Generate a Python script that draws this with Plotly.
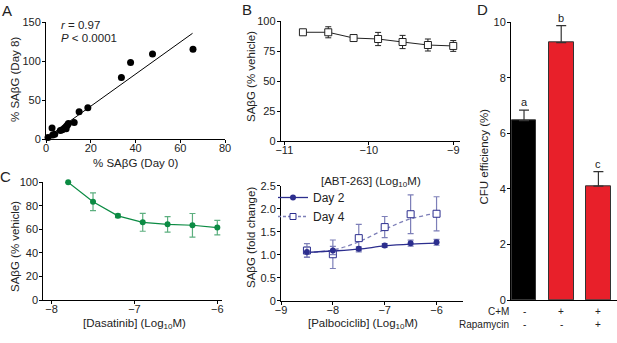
import plotly.graph_objects as go

W, H = 617, 343
FONT = "Liberation Sans, Arial, sans-serif"

# ---------------- Data ----------------
# Panel A
a_day0 = [0.9, 2.7, 3.0, 3.9, 6.4, 7.3, 8.3, 9.0, 9.6, 10.0, 9.0, 12.6, 14.8, 18.7, 33.7, 37.8, 47.6, 65.7]
a_day8 = [2, 14, 5, 6, 11, 12, 14, 16, 18, 20, 13, 21, 35, 40, 79, 98, 109, 115]
a_fit_x = [1.0, 65.5]
a_fit_y = [3.0, 135.5]

# Panel B
b_x = [-10.78, -10.48, -10.18, -9.89, -9.60, -9.30, -9.00]
b_y = [90.6, 90.6, 85.8, 85.0, 82.5, 80.0, 79.2]
b_err = [0, 4.6, 1.2, 5.5, 5.5, 5.0, 4.5]

# Panel C
c_x = [-7.80, -7.50, -7.20, -6.90, -6.60, -6.30, -6.00]
c_y = [100, 83.5, 71.5, 66.0, 64.3, 63.5, 61.5]
c_err = [0, 7.6, 1.5, 7.6, 6.6, 10.0, 6.2]

# Panel Palbociclib
p_x = [-8.5, -8.0, -7.5, -7.0, -6.5, -6.0]
p_day2 = [1.06, 1.09, 1.13, 1.20, 1.25, 1.27]
p_day2_err = [0.11, 0.09, 0.04, 0.04, 0.065, 0.065]
p_day4 = [1.09, 1.01, 1.36, 1.60, 1.88, 1.89]
p_day4_err = [0.15, 0.31, 0.30, 0.23, 0.42, 0.37]
p_fit_x = [-8.5, -8.0, -7.5, -7.0, -6.5, -6.0]
p_fit2 = [1.05, 1.08, 1.12, 1.19, 1.23, 1.25]
p_fit4 = [1.05, 1.10, 1.28, 1.55, 1.78, 1.90]
p_series = ["Day 2", "Day 4"]

# Panel D
d_groups = [0, 1, 2]
d_vals = [6.46, 9.27, 4.10]
d_err = [0.38, 0.61, 0.52]
d_letters = ["a", "b", "c"]
d_cm = ["-", "+", "+"]
d_rapa = ["-", "-", "+"]

GREEN = "#0b8b43"
GREEN_L = "#5caf7f"
NAVY = "#2c2e8e"
NAVY_L = "#7d7fb8"
RED = "#e8202a"


def dom_x(l, r):
    return [l / W, r / W]


def dom_y(b, t):
    return [1 - b / H, 1 - t / H]


fig = go.Figure()

# A
fig.add_trace(go.Scatter(x=a_fit_x, y=a_fit_y, mode="lines", line=dict(color="black", width=1),
                         xaxis="x", yaxis="y", showlegend=False, cliponaxis=False))
fig.add_trace(go.Scatter(x=a_day0, y=a_day8, mode="markers",
                         marker=dict(color="black", size=7), xaxis="x", yaxis="y",
                         showlegend=False, cliponaxis=False))

# B
fig.add_trace(go.Scatter(x=b_x, y=b_y, mode="lines+markers",
                         line=dict(color="#222", width=1),
                         marker=dict(symbol="square", color="white", size=7, line=dict(width=1, color="#222")),
                         error_y=dict(type="data", array=b_err, color="#222", thickness=1, width=3),
                         xaxis="x2", yaxis="y2", showlegend=False, cliponaxis=False))

# C
fig.add_trace(go.Scatter(x=c_x, y=c_y, mode="lines+markers",
                         line=dict(color=GREEN, width=1.2),
                         marker=dict(symbol="circle", color=GREEN, size=6),
                         error_y=dict(type="data", array=c_err, color=GREEN_L, thickness=1.2, width=3),
                         xaxis="x3", yaxis="y3", showlegend=False, cliponaxis=False))

# Palbociclib
fig.add_trace(go.Scatter(x=p_fit_x, y=p_fit4, mode="lines", line=dict(color=NAVY_L, width=1.3, dash="4px,3px", shape="spline"),
                         xaxis="x4", yaxis="y4", showlegend=False, hoverinfo="skip"))
fig.add_trace(go.Scatter(x=p_fit_x, y=p_fit2, mode="lines", line=dict(color=NAVY, width=1.3, shape="spline"),
                         xaxis="x4", yaxis="y4", showlegend=False, hoverinfo="skip"))
fig.add_trace(go.Scatter(x=p_x, y=p_day4, mode="markers",
                         marker=dict(symbol="square", color="white", size=7, line=dict(color=NAVY, width=1)),
                         error_y=dict(type="data", array=p_day4_err, color=NAVY_L, thickness=1.2, width=3),
                         xaxis="x4", yaxis="y4", showlegend=False, cliponaxis=False))
fig.add_trace(go.Scatter(x=p_x, y=p_day2, mode="markers",
                         marker=dict(symbol="circle", color=NAVY, size=6),
                         error_y=dict(type="data", array=p_day2_err, color=NAVY_L, thickness=1.2, width=3),
                         xaxis="x4", yaxis="y4", showlegend=False, cliponaxis=False))
# legend entries
fig.add_trace(go.Scatter(x=[None], y=[None], mode="lines+markers", name=p_series[0],
                         line=dict(color=NAVY, width=1.3),
                         marker=dict(symbol="circle", color=NAVY, size=6),
                         xaxis="x4", yaxis="y4", showlegend=True))
fig.add_trace(go.Scatter(x=[None], y=[None], mode="lines+markers", name=p_series[1],
                         line=dict(color=NAVY_L, width=1.3, dash="3px,2px"),
                         marker=dict(symbol="square", color="white", size=6, line=dict(color=NAVY, width=1)),
                         xaxis="x4", yaxis="y4", showlegend=True))

# D bars
fig.add_trace(go.Bar(x=d_groups, y=d_vals, width=0.67,
                     marker=dict(color=["black", RED, RED], line=dict(color="#333", width=1)),
                     error_y=dict(type="data", array=d_err, arrayminus=[0, 0, 0], symmetric=False,
                                  color="#333", thickness=1.2, width=5),
                     xaxis="x5", yaxis="y5", showlegend=False))

axis_common = dict(showline=True, linecolor="black", linewidth=1, ticks="outside", ticklen=3,
                   tickcolor="black", tickwidth=1, showgrid=False, zeroline=False, automargin=False,
                   tickfont=dict(family=FONT, size=11, color="#222"), fixedrange=True)
xax = dict(axis_common, ticklabelstandoff=-4)
yax = dict(axis_common, ticklabelstandoff=-1)

fig.update_layout(
    template="none",
    width=W, height=H, margin=dict(l=0, r=0, t=0, b=0, pad=0, autoexpand=False),
    paper_bgcolor="white", plot_bgcolor="white",
    font=dict(family=FONT, size=11, color="#222"),
    xaxis=dict(domain=dom_x(46, 225), range=[0, 80], tickvals=[0, 20, 40, 60, 80], anchor="y", **xax),
    yaxis=dict(domain=dom_y(139, 22), range=[0, 150], tickvals=[0, 50, 100, 150], anchor="x", **yax),
    xaxis2=dict(domain=dom_x(280.7, 460), range=[-11.043, -8.92], tickvals=[-11, -10, -9], anchor="y2", **xax),
    yaxis2=dict(domain=dom_y(141, 21), range=[0, 100], tickvals=[0, 25, 50, 75, 100], anchor="x2", **yax),
    xaxis3=dict(domain=dom_x(43.3, 221.7), range=[-8.10, -5.947], tickvals=[-8, -7, -6], anchor="y3", **xax),
    yaxis3=dict(domain=dom_y(300, 182.3), range=[0, 100], tickvals=[0, 20, 40, 60, 80, 100], anchor="x3", **yax),
    xaxis4=dict(domain=dom_x(281, 463), range=[-9, -5.49], tickvals=[-9, -8, -7, -6], anchor="y4", **xax),
    yaxis4=dict(domain=dom_y(300.7, 185.7), range=[0, 2.5], tickvals=[0, 0.5, 1, 1.5, 2, 2.5],
                ticktext=["0", "0.5", "1.0", "1.5", "2.0", "2.5"], anchor="x4", **yax),
    xaxis5=dict(domain=dom_x(511, 617), range=[-0.35, 2.5], anchor="y5", showline=True, linecolor="black",
                linewidth=1, showticklabels=False, ticks="", showgrid=False, zeroline=False, fixedrange=True,
                automargin=False),
    yaxis5=dict(domain=dom_y(300, 22.3), range=[0, 10], tickvals=[0, 2, 4, 6, 8, 10], anchor="x5", **yax),
    legend=dict(x=273 / W, y=1 - 183 / H, xanchor="left", yanchor="top", bgcolor="rgba(0,0,0,0)",
                font=dict(family=FONT, size=12, color="#222"), itemwidth=30, tracegroupgap=0,
                borderwidth=0),
    bargap=0,
    showlegend=True,
)


def ann(x, y, text, size=11.5, angle=0, xanchor="center", yanchor="middle", **kw):
    fig.add_annotation(x=x / W, y=1 - y / H, xref="paper", yref="paper", text=text, showarrow=False,
                       font=dict(family=FONT, size=size, color="#222"), textangle=angle,
                       xanchor=xanchor, yanchor=yanchor, **kw)


# panel letters
ann(7, 11, "A", size=15)
ann(247, 10, "B", size=15)
ann(5, 176, "C", size=15)
ann(482, 10, "D", size=15)

# axis titles
ann(135.7, 163.3, "% SAβG (Day 0)")
ann(15, 80, "% SAβG (Day 8)", angle=-90)
ann(371, 181.5, "[ABT-263] (Log<sub>10</sub>M)")
ann(251, 77, "SAβG (% vehicle)", angle=-90)
ann(134, 324, "[Dasatinib] (Log<sub>10</sub>M)")
ann(15, 247, "SAβG (% vehicle)", angle=-90)
ann(363, 324, "[Palbociclib] (Log<sub>10</sub>M)")
ann(251, 238, "SAβG (fold change)", angle=-90)
ann(483.5, 157, "CFU efficiency (%)", angle=-90)

# stats text
ann(59, 25, "<i>r</i> = 0.97", size=11.5, xanchor="left")
ann(59, 38, "<i>P</i> < 0.0001", size=11.5, xanchor="left")

# bar letters and table
for g, v, e, t in zip(d_groups, d_vals, d_err, d_letters):
    fig.add_annotation(x=g, y=v + e, xref="x5", yref="y5", text=t, showarrow=False, yshift=8,
                       yanchor="middle", font=dict(family=FONT, size=11, color="#222"))
for g, s in zip(d_groups, d_cm):
    fig.add_annotation(x=g, y=1 - 311 / H, xref="x5", yref="paper", text=s, showarrow=False,
                       yanchor="middle", font=dict(family=FONT, size=10, color="#222"))
for g, s in zip(d_groups, d_rapa):
    fig.add_annotation(x=g, y=1 - 324.5 / H, xref="x5", yref="paper", text=s, showarrow=False,
                       yanchor="middle", font=dict(family=FONT, size=10, color="#222"))
ann(511, 311, "C+M", size=10, xanchor="right")
ann(511, 324.5, "Rapamycin", size=10, xanchor="right")

fig.write_html("out.html", config={"displayModeBar": False},
               post_script="document.body.style.margin='0';document.body.style.padding='0';")
